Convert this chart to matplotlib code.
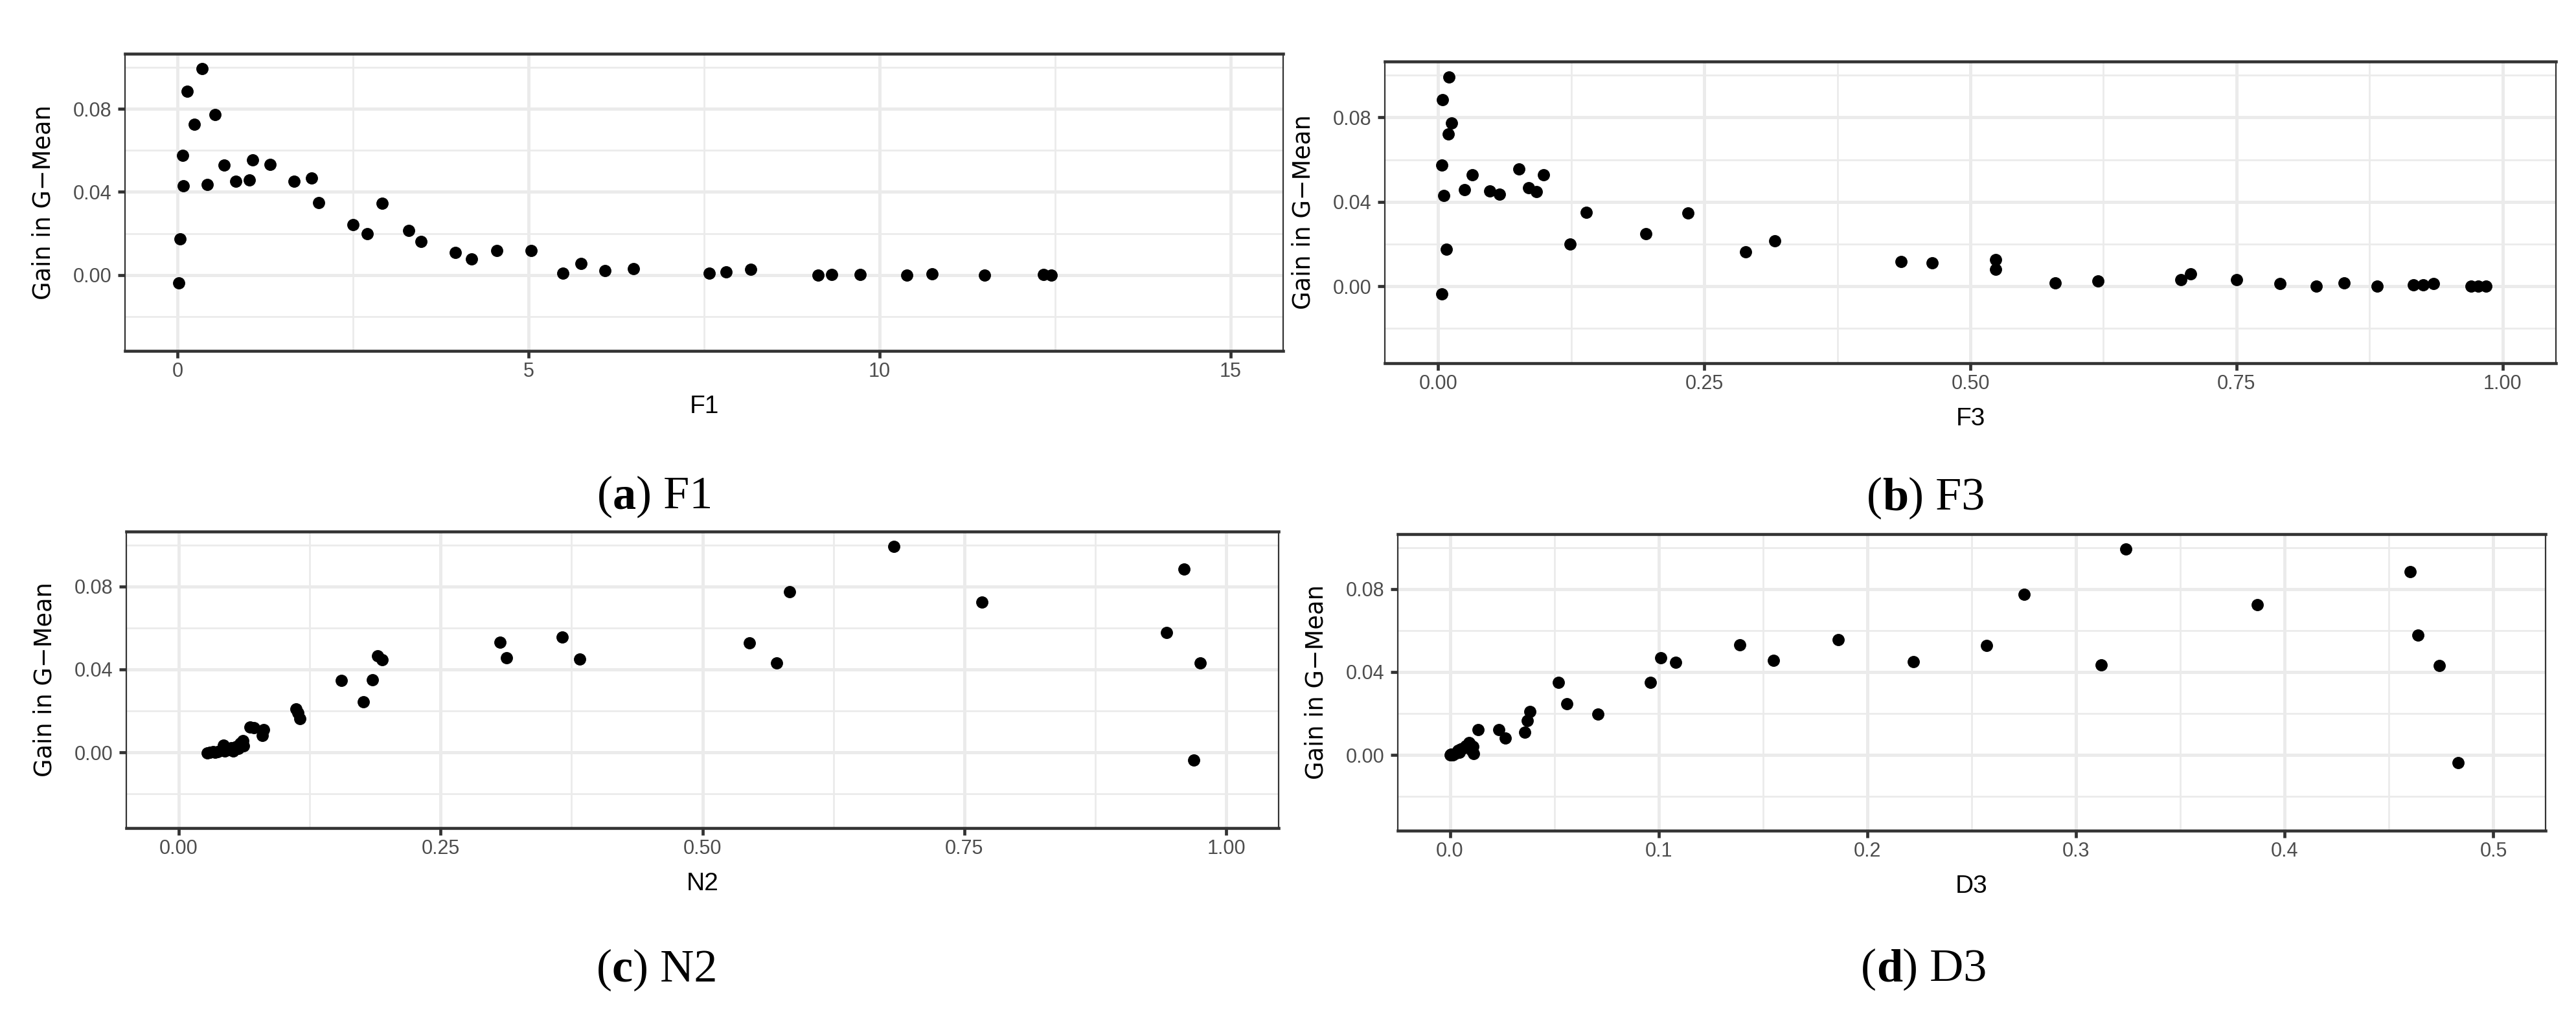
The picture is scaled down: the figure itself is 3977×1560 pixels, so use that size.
import matplotlib
matplotlib.use("Agg")
import matplotlib.pyplot as plt
from matplotlib.ticker import FixedLocator

# ---------------- data ----------------
F1_x = [0.015, 0.031, 0.071, 0.080, 0.135, 0.240, 0.348, 0.424, 0.532, 0.664, 0.824, 1.024, 1.064,
        1.316, 1.661, 1.906, 2.01, 2.50, 2.70, 2.91, 3.29, 3.47, 3.96, 4.19, 4.55, 5.04, 5.49, 5.75,
        6.09, 6.49, 7.57, 7.81, 8.16, 9.12, 9.32, 9.72, 10.39, 10.75, 11.50, 12.34, 12.45]
F1_y = [-0.0038, 0.0175, 0.0575, 0.0429, 0.0885, 0.0724, 0.0992, 0.0436, 0.0772, 0.0530, 0.0450,
        0.0459, 0.0555, 0.0532, 0.0450, 0.0467, 0.0349, 0.0244, 0.0198, 0.0346, 0.0214, 0.0161,
        0.0108, 0.0078, 0.0118, 0.0118, 0.0010, 0.0056, 0.0022, 0.0032, 0.0008, 0.0014, 0.0029,
        -0.0002, 0.0002, 0.0002, 0.0000, 0.0005, 0.0000, 0.0003, 0.0000]

F3_x = [0.0035, 0.0041, 0.0035, 0.0051, 0.0077, 0.0095, 0.0126, 0.0105, 0.0248, 0.0324, 0.0487,
        0.0578, 0.0760, 0.0852, 0.0922, 0.0989, 0.124, 0.139, 0.195, 0.235, 0.289, 0.316, 0.435,
        0.464, 0.524, 0.524, 0.580, 0.620, 0.698, 0.707, 0.750, 0.791, 0.825, 0.851, 0.882, 0.916,
        0.925, 0.935, 0.970, 0.977, 0.984]
F3_y = [-0.0036, 0.0883, 0.0575, 0.0430, 0.0174, 0.0722, 0.0773, 0.0991, 0.0457, 0.0527, 0.0450,
        0.0435, 0.0555, 0.0466, 0.0447, 0.0529, 0.0200, 0.0350, 0.0248, 0.0348, 0.0162, 0.0215,
        0.0118, 0.0111, 0.0127, 0.0080, 0.0014, 0.0024, 0.0031, 0.0060, 0.0031, 0.0013, 0.0000,
        0.0017, 0.0000, 0.0006, 0.0006, 0.0013, 0.0000, 0.0000, 0.0000]

N2_x = [0.683, 0.960, 0.583, 0.767, 0.943, 0.366, 0.307, 0.545, 0.313, 0.190, 0.194, 0.383, 0.571,
        0.975, 0.155, 0.185, 0.176, 0.112, 0.114, 0.116, 0.969,
        0.068, 0.072, 0.081, 0.080,
        0.027, 0.030, 0.033, 0.035, 0.037, 0.040, 0.043, 0.044, 0.047, 0.050, 0.052, 0.055, 0.057,
        0.059, 0.061, 0.062]
N2_y = [0.0993, 0.0884, 0.0775, 0.0724, 0.0577, 0.0556, 0.0531, 0.0528, 0.0456, 0.0465, 0.0447,
        0.0450, 0.0431, 0.0430, 0.0347, 0.0350, 0.0243, 0.0210, 0.0190, 0.0163, -0.0037,
        0.0122, 0.0118, 0.0110, 0.0080,
        -0.0002, 0.0000, 0.0002, 0.0000, 0.0003, 0.0010, 0.0034, 0.0005, 0.0014, 0.0022, 0.0008,
        0.0029, 0.0018, 0.0045, 0.0057, 0.0032]

D3_x = [0.324, 0.460, 0.275, 0.387, 0.464, 0.186, 0.139, 0.257, 0.101, 0.108, 0.155, 0.222, 0.312,
        0.474, 0.052, 0.096, 0.056, 0.071, 0.483,
        0.0383, 0.0372, 0.0357, 0.0135, 0.0233, 0.0264,
        0.0000, 0.0008, 0.0015, 0.0022, 0.0030, 0.0038, 0.0045, 0.0052, 0.0060, 0.0075, 0.0090,
        0.0098, 0.0105, 0.0110, 0.0112, 0.0003]
D3_y = [0.0992, 0.0883, 0.0774, 0.0724, 0.0577, 0.0555, 0.0532, 0.0529, 0.0468, 0.0446, 0.0455,
        0.0451, 0.0434, 0.0430, 0.0351, 0.0351, 0.0248, 0.0197, -0.0037,
        0.0208, 0.0166, 0.0109, 0.0122, 0.0122, 0.0083,
        0.0000, 0.0002, 0.0000, 0.0005, 0.0010, 0.0022, 0.0014, 0.0029, 0.0032, 0.0045, 0.0060,
        0.0050, 0.0022, 0.0040, 0.0008, 0.0003]

y_label = "Gain in G\u2212Mean"
y_ticks = [0.00, 0.04, 0.08]
y_tick_labels = ["0.00", "0.04", "0.08"]
y_minor = [-0.02, 0.02, 0.06, 0.10]
y_lim = (-0.0365, 0.1065)

panels = [
    # name, x, y, xticks, xticklabels, xminor, xlim, axes box px (left, right, top, bottom), caption (xc, baseline), letter
    ("F1", F1_x, F1_y, [0, 5, 10, 15], ["0", "5", "10", "15"], [2.5, 7.5, 12.5], (-0.75, 15.75),
     (193, 1981, 83, 542), (1011, 785), "a"),
    ("F3", F3_x, F3_y, [0, 0.25, 0.5, 0.75, 1.0], ["0.00", "0.25", "0.50", "0.75", "1.00"],
     [0.125, 0.375, 0.625, 0.875], (-0.05, 1.05), (2138, 3946, 95, 561), (2973, 787), "b"),
    ("N2", N2_x, N2_y, [0, 0.25, 0.5, 0.75, 1.0], ["0.00", "0.25", "0.50", "0.75", "1.00"],
     [0.125, 0.375, 0.625, 0.875], (-0.05, 1.05), (195, 1974, 821, 1279), (1014, 1516), "c"),
    ("D3", D3_x, D3_y, [0, 0.1, 0.2, 0.3, 0.4, 0.5], ["0.0", "0.1", "0.2", "0.3", "0.4", "0.5"],
     [0.05, 0.15, 0.25, 0.35, 0.45], (-0.025, 0.525), (2158, 3930, 825, 1283), (2970, 1515), "d"),
]

W, H = 3977, 1560
DPI = 100
fig = plt.figure(figsize=(W / DPI, H / DPI), dpi=DPI)
fig.patch.set_facecolor("white")

GRID = "#EBEBEB"
DARK = "#333333"
TICKC = "#4D4D4D"

for name, xs, ys, xt, xtl, xmin, xlim, box, cap, letter in panels:
    l, r, t, b = box
    ax = fig.add_axes([l / W, 1 - b / H, (r - l) / W, (b - t) / H])
    ax.set_xlim(*xlim)
    ax.set_ylim(*y_lim)
    ax.set_xticks(xt)
    ax.set_xticklabels(xtl)
    ax.set_yticks(y_ticks)
    ax.set_yticklabels(y_tick_labels)
    ax.xaxis.set_minor_locator(FixedLocator(xmin))
    ax.yaxis.set_minor_locator(FixedLocator(y_minor))
    ax.set_axisbelow(True)
    ax.grid(True, which="major", color=GRID, linewidth=3.6)
    ax.grid(True, which="minor", color=GRID, linewidth=2.0)
    ax.tick_params(which="minor", length=0)
    ax.tick_params(which="major", length=7.9, width=3.4, color=DARK, labelcolor=TICKC,
                   labelsize=22)
    ax.tick_params(axis="y", pad=7)
    ax.tick_params(axis="x", pad=4)
    for lab in ax.get_xticklabels() + ax.get_yticklabels():
        lab.set_fontfamily(["Liberation Sans", "DejaVu Sans"])
    for side in ["top", "bottom"]:
        ax.spines[side].set_linewidth(3.3)
        ax.spines[side].set_color(DARK)
    for side in ["left", "right"]:
        ax.spines[side].set_linewidth(1.6)
        ax.spines[side].set_color(DARK)

    ax.scatter(xs, ys, s=185, c="black", linewidths=0, zorder=3)

    ax.set_xlabel(name, fontsize=28, family=["Liberation Sans", "DejaVu Sans"], color="black")
    ax.xaxis.set_label_coords(0.5, -86 / (b - t))
    ax.xaxis.label.set_va("center")
    ax.set_ylabel(y_label, fontsize=26.5, family=["DejaVu Sans"], color="black")
    ax.yaxis.set_label_coords(-126 / (r - l), 0.5)
    ax.yaxis.label.set_va("center")

# captions
renderer = fig.canvas.get_renderer()
for name, xs, ys, xt, xtl, xmin, xlim, box, cap, letter in panels:
    xc, yb = cap
    parts = [("(", "normal"), (letter, "bold"), (") " + name, "normal")]
    texts = []
    widths = []
    for s, w in parts:
        tx = fig.text(0, 1 - yb / H, s, fontsize=52, family=["Liberation Serif", "DejaVu Serif"],
                      weight=w, va="baseline", ha="left", color="black")
        texts.append(tx)
        widths.append(tx.get_window_extent(renderer).width)
    total = sum(widths)
    x0 = xc - total / 2
    for tx, wd in zip(texts, widths):
        tx.set_x(x0 / W)
        x0 += wd

fig.savefig("out.png", dpi=DPI, facecolor="white")
